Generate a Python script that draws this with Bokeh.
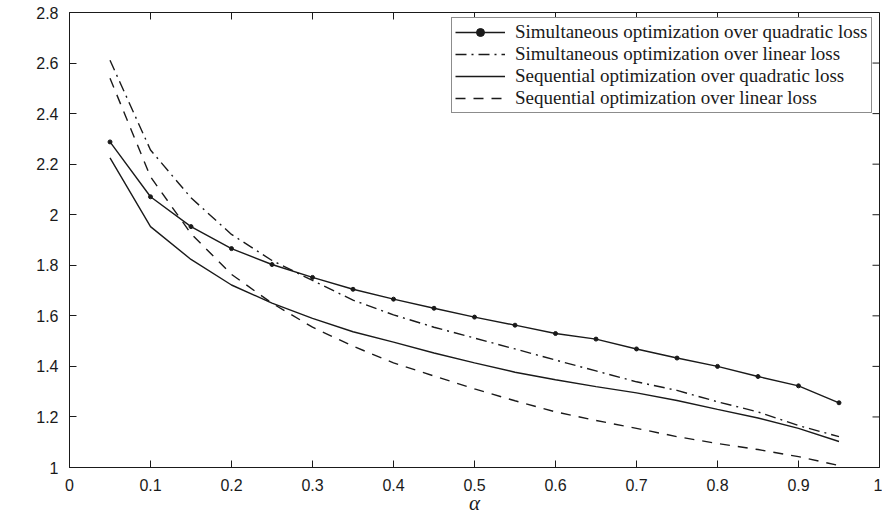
import math
from bokeh.plotting import figure
from bokeh.models import FixedTicker, Legend, LegendItem, Label
from bokeh.embed import file_html
from bokeh.resources import INLINE

alpha = [0.05, 0.10, 0.15, 0.20, 0.25, 0.30, 0.35, 0.40, 0.45, 0.50,
         0.55, 0.60, 0.65, 0.70, 0.75, 0.80, 0.85, 0.90, 0.95]
sim_quad = [2.288, 2.071, 1.953, 1.866, 1.803, 1.752, 1.705, 1.666, 1.630, 1.595,
            1.563, 1.530, 1.508, 1.469, 1.433, 1.400, 1.360, 1.323, 1.256]
sim_lin = [2.611, 2.256, 2.067, 1.922, 1.819, 1.740, 1.662, 1.604, 1.555, 1.512,
           1.469, 1.425, 1.382, 1.339, 1.305, 1.260, 1.220, 1.166, 1.122]
seq_quad = [2.225, 1.953, 1.823, 1.722, 1.650, 1.590, 1.537, 1.496, 1.453, 1.414,
            1.377, 1.347, 1.320, 1.295, 1.265, 1.230, 1.196, 1.155, 1.103]
seq_lin = [2.540, 2.150, 1.925, 1.764, 1.650, 1.555, 1.480, 1.414, 1.362, 1.311,
           1.264, 1.220, 1.186, 1.155, 1.122, 1.095, 1.071, 1.043, 1.008]

series_labels = ["Simultaneous optimization over quadratic loss",
                 "Simultaneous optimization over linear loss",
                 "Sequential optimization over quadratic loss",
                 "Sequential optimization over linear loss"]

x_ticks = [0, 0.1, 0.2, 0.3, 0.4, 0.5, 0.6, 0.7, 0.8, 0.9, 1]
x_tick_labels = ["0", "0.1", "0.2", "0.3", "0.4", "0.5", "0.6", "0.7", "0.8", "0.9", "1"]
y_ticks = [1, 1.2, 1.4, 1.6, 1.8, 2, 2.2, 2.4, 2.6, 2.8]
y_tick_labels = ["1", "1.2", "1.4", "1.6", "1.8", "2", "2.2", "2.4", "2.6", "2.8"]
x_lim = (0, 1)
y_lim = (1, 2.8)

TICK_FONT = "Liberation Sans"
SERIF = "Liberation Serif"
INK = "#1a1a1a"

p = figure(width=882, height=517, x_range=x_lim, y_range=y_lim,
           output_backend="svg", toolbar_location=None,
           min_border_left=69, min_border_top=12, min_border_right=3,
           min_border_bottom=48)
p.grid.visible = False
p.outline_line_color = INK
p.outline_line_width = 1
p.background_fill_color = "white"
p.border_fill_color = "white"

def style_axis(ax, ticks, labels):
    ax.ticker = FixedTicker(ticks=ticks)
    ax.major_label_overrides = {t: l for t, l in zip(ticks, labels)}
    ax.major_tick_in = 7
    ax.major_tick_out = 0
    ax.minor_tick_in = 0
    ax.minor_tick_out = 0
    ax.major_tick_line_color = INK
    ax.axis_line_color = INK
    ax.major_label_text_font = TICK_FONT
    ax.major_label_text_color = INK
    ax.major_label_text_font_size = "16px"
    ax.major_label_standoff = 11

style_axis(p.xaxis[0], x_ticks, x_tick_labels)
style_axis(p.yaxis[0], y_ticks, y_tick_labels)
p.xaxis.axis_label = "α"
p.xaxis.axis_label_text_font = SERIF
p.xaxis.axis_label_text_font_style = "italic"
p.xaxis.axis_label_text_font_size = "21px"
p.xaxis.axis_label_text_color = INK
p.xaxis.axis_label_standoff = -3

# inward tick marks on the top and right frame edges (MATLAB-style box)
p.ray(x=x_ticks, y=[y_lim[1]] * len(x_ticks), length=7, angle=-math.pi / 2,
      length_units="screen", line_color=INK, line_width=1)
p.ray(x=[x_lim[1]] * len(y_ticks), y=y_ticks, length=7, angle=math.pi,
      length_units="screen", line_color=INK, line_width=1)

ylab = Label(x=-0.069, y=2.03, text="x*", angle=math.pi / 2,
             text_font=SERIF, text_font_style="italic", text_font_size="21px",
             text_align="center", text_baseline="middle", text_color=INK)
p.add_layout(ylab)

lw = 1.4
r1 = p.line(alpha, sim_quad, line_color=INK, line_width=lw)
r1s = p.scatter(alpha, sim_quad, size=4, marker="circle", fill_color=INK, line_color=INK)
r2 = p.line(alpha, sim_lin, line_color=INK, line_width=lw, line_dash="11 5 2 5")
r3 = p.line(alpha, seq_quad, line_color=INK, line_width=lw)
r4 = p.line(alpha, seq_lin, line_color=INK, line_width=lw, line_dash="10 8")

legend = Legend(items=[
    LegendItem(label=series_labels[0], renderers=[r1, r1s]),
    LegendItem(label=series_labels[1], renderers=[r2]),
    LegendItem(label=series_labels[2], renderers=[r3]),
    LegendItem(label=series_labels[3], renderers=[r4]),
], location=(382, 354))
legend.margin = 0
legend.padding = 3
legend.spacing = 0
legend.glyph_width = 50
legend.glyph_height = 20
legend.label_height = 20
legend.label_standoff = 10
legend.label_text_font = SERIF
legend.label_text_font_size = "19px"
legend.label_text_color = INK
legend.border_line_color = INK
legend.border_line_width = 1
legend.background_fill_alpha = 1
p.add_layout(legend)

open("out.html", "w").write(file_html(p, INLINE))
